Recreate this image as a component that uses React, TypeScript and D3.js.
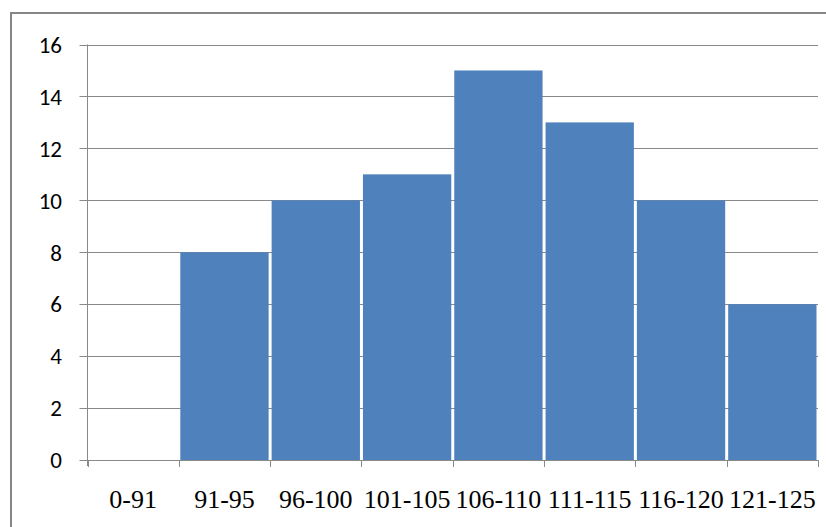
import { useEffect, useRef } from 'react';
import * as d3 from 'd3';

const categories = ['0-91', '91-95', '96-100', '101-105', '106-110', '111-115', '116-120', '121-125'];
const counts = [0, 8, 10, 11, 15, 13, 10, 6];
const yTicks = [0, 2, 4, 6, 8, 10, 12, 14, 16];

const W = 826;
const H = 527;

const App = () => {
  const ref = useRef<SVGSVGElement | null>(null);

  useEffect(() => {
    const svg = d3.select(ref.current);
    svg.selectAll('*').remove();

    // outer chart frame (right and bottom fall off the page)
    svg.append('rect')
      .attr('x', 11).attr('y', 13)
      .attr('width', 830).attr('height', 530)
      .attr('fill', '#fff')
      .attr('stroke', '#868686')
      .attr('stroke-width', 2);

    const left = 87.5, right = 818, top = 44.5, bottom = 460;

    const x = d3.scaleBand().domain(categories).range([left, right]).padding(0);
    const y = d3.scaleLinear().domain([0, 16]).range([bottom, top]);

    // gridlines + y ticks
    svg.append('g')
      .selectAll('line')
      .data(yTicks)
      .enter().append('line')
      .attr('x1', left - 8).attr('x2', right)
      .attr('y1', d => Math.round(y(d)) + 0.5).attr('y2', d => Math.round(y(d)) + 0.5)
      .attr('stroke', '#898989')
      .attr('stroke-width', 1);

    // bars
    svg.append('g')
      .selectAll('rect')
      .data(categories)
      .enter().append('rect')
      .attr('x', d => x(d)! + 1.5)
      .attr('width', x.bandwidth() - 3)
      .attr('y', (_, i) => y(counts[i]))
      .attr('height', (_, i) => bottom - y(counts[i]))
      .attr('fill', '#4F81BD');

    // y axis line
    svg.append('line')
      .attr('x1', left).attr('x2', left)
      .attr('y1', top).attr('y2', bottom + 6)
      .attr('stroke', '#898989');

    // x ticks at band boundaries
    const bounds = categories.map(c => x(c)!).concat([right]);
    svg.append('g')
      .selectAll('line')
      .data(bounds)
      .enter().append('line')
      .attr('x1', d => Math.round(d) + 0.5).attr('x2', d => Math.round(d) + 0.5)
      .attr('y1', bottom).attr('y2', bottom + 7)
      .attr('stroke', '#898989');

    // y labels
    svg.append('g')
      .selectAll('text')
      .data(yTicks)
      .enter().append('text')
      .attr('x', 62)
      .attr('y', d => y(d))
      .attr('dy', '0.36em')
      .attr('text-anchor', 'end')
      .attr('font-family', 'Carlito, Lato, "Open Sans", sans-serif')
      .attr('font-size', 23)
      .attr('fill', '#000')
      .text(d => d);

    // x labels
    svg.append('g')
      .selectAll('text')
      .data(categories)
      .enter().append('text')
      .attr('x', d => x(d)! + x.bandwidth() / 2)
      .attr('y', 508)
      .attr('text-anchor', 'middle')
      .attr('font-family', '"Liberation Serif", "Times New Roman", serif')
      .attr('font-size', 26)
      .attr('fill', '#000')
      .text(d => d);
  }, []);

  return (
    <svg ref={ref} width={W} height={H} style={{ position: 'absolute', left: 0, top: 0, display: 'block' }} />
  );
};

export default App;
